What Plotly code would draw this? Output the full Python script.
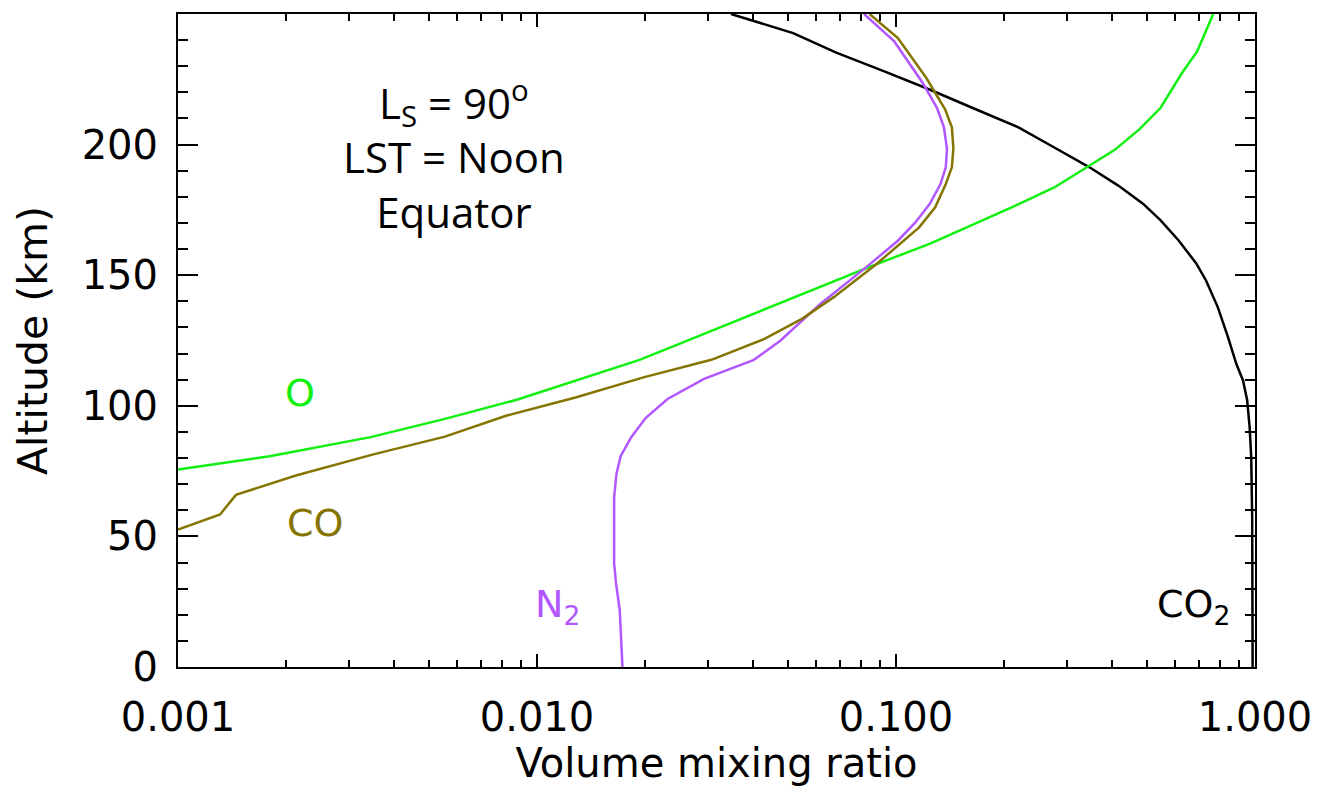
import plotly.graph_objects as go
import numpy as np

# ---- data (altitude km, volume mixing ratio) ----
co2_alt = [0, 57.5, 80.4, 91.9, 102.1, 109.7, 116.1, 126.3, 137.7, 147.9, 154.5, 163.4,
           171.0, 177.4, 184.3, 191.3, 198.9, 206.5, 214.1, 221.1, 228.1, 235.3, 242.7, 250]
co2_vmr = [0.985, 0.982, 0.976, 0.966, 0.951, 0.926, 0.887, 0.841, 0.788, 0.731, 0.686, 0.612,
           0.546, 0.4875, 0.416, 0.346, 0.276, 0.220, 0.163, 0.124, 0.0924, 0.0679, 0.0517, 0.0347]

o_alt = [75.6, 80.7, 88.0, 95.0, 102.4, 110.0, 117.6, 125.9, 137.0, 153.2, 162.0, 176.0,
         183.6, 191.4, 197.9, 205.9, 214.1, 227.4, 235.7, 250]
o_vmr = [0.00100, 0.00180, 0.00344, 0.00554, 0.00883, 0.0131, 0.0193, 0.0273, 0.0433, 0.0844,
         0.124, 0.210, 0.276, 0.342, 0.406, 0.477, 0.546, 0.626, 0.690, 0.765]

co_alt = [52.6, 58.4, 65.9, 73.3, 81.3, 88.2, 96.2, 103.2, 110.9, 117.6, 125.6, 133.3, 141.6,
          154.3, 168.3, 176.0, 184.9, 191.3, 198.6, 206.6, 213.5, 225.5, 240.8, 250]
co_vmr = [0.00100, 0.00131, 0.00145, 0.00213, 0.00348, 0.00554, 0.00820, 0.0128, 0.0198, 0.0306,
          0.0430, 0.0547, 0.0671, 0.0883, 0.116, 0.1286, 0.1376, 0.1431, 0.1445, 0.1431, 0.137,
          0.1215, 0.1012, 0.0844]

n2_alt = [0, 21.8, 32.0, 39.6, 65.1, 74.0, 80.7, 88.0, 95.4, 102.6, 110.3, 117.6, 125.0, 138.8,
          153.0, 163.2, 170.3, 177.3, 184.9, 191.3, 198.3, 206.6, 214.1, 223.6, 239.5, 250]
n2_vmr = [0.0173, 0.0170, 0.0166, 0.0164, 0.0164, 0.01665, 0.0171, 0.0183, 0.0201, 0.0231,
          0.0292, 0.0402, 0.0477, 0.0613, 0.0825, 0.1012, 0.1134, 0.1242, 0.133, 0.1376, 0.1387,
          0.136, 0.130, 0.1187, 0.0989, 0.0815]

x_tickvals = [0.001, 0.01, 0.1, 1.0]
x_ticktext = ["0.001", "0.010", "0.100", "1.000"]
y_tickvals = [0, 50, 100, 150, 200, 250]

GREEN = "#11f011"
OLIVE = "#857500"
PURPLE = "#b257ff"
BLACK = "#000000"

fig = go.Figure()
for alt, vmr, col in [(co2_alt, co2_vmr, BLACK), (o_alt, o_vmr, GREEN),
                      (n2_alt, n2_vmr, PURPLE), (co_alt, co_vmr, OLIVE)]:
    fig.add_trace(go.Scatter(x=vmr, y=alt, mode="lines",
                             line=dict(color=col, width=2.5), showlegend=False,
                             hoverinfo="skip"))

FAM = "DejaVu Sans"
AXFONT = dict(family=FAM, size=40, color="black")
minor_x = [m * d for d in (0.001, 0.01, 0.1) for m in range(2, 10)]

fig.update_layout(
    width=1324, height=794,
    margin=dict(l=178, r=67, t=13, b=127),
    plot_bgcolor="white", paper_bgcolor="white",
    showlegend=False,
    xaxis=dict(type="log", range=[-3, 0], tickvals=x_tickvals, ticktext=x_ticktext,
               ticks="inside", ticklen=13, tickwidth=2, tickcolor="black",
               showline=True, linecolor="black", linewidth=2, mirror="ticks",
               showgrid=False, zeroline=False, tickfont=AXFONT,
               ticklabelstandoff=14,
               minor=dict(tickvals=minor_x, ticks="inside", ticklen=7, tickwidth=2,
                          tickcolor="black", showgrid=False),
               title=dict(text="Volume mixing ratio", font=dict(family=FAM, size=40,
                                                                 color="black"),
                          standoff=10)),
    yaxis=dict(range=[0, 250], tickvals=y_tickvals,
               ticks="inside", ticklen=20, tickwidth=2, tickcolor="black",
               showline=True, linecolor="black", linewidth=2, mirror="ticks",
               showgrid=False, zeroline=False, tickfont=AXFONT,
               ticklabelstandoff=10,
               minor=dict(dtick=10, ticks="inside", ticklen=10, tickwidth=2,
                          tickcolor="black", showgrid=False),
               title=dict(text="Altitude (km)", font=dict(family=FAM, size=41,
                                                           color="black"),
                          standoff=21)),
)

LBL = dict(family=FAM, size=38)
labels = [("O", 0.00218, 105, GREEN), ("CO", 0.0024, 55, OLIVE),
          ("N<sub>2</sub>", 0.0114, 23, PURPLE), ("CO<sub>2</sub>", 0.672, 23, BLACK)]
for txt, xv, yv, col in labels:
    fig.add_annotation(x=np.log10(xv), y=yv, xref="x", yref="y", text=txt, showarrow=False,
                       font=dict(LBL, color=col), xanchor="center", yanchor="middle")

INFO = dict(family="Open Sans", size=42, color="black")
fig.add_annotation(x=(455 - 178) / 1079, y=1 - (154 - 13) / 654, xref="paper", yref="paper",
                   text="L<sub>S</sub> = 90<sup>o</sup><br>LST = Noon<br>Equator",
                   showarrow=False, font=INFO, xanchor="center", yanchor="middle",
                   align="center")

fig.write_html("out.html")
